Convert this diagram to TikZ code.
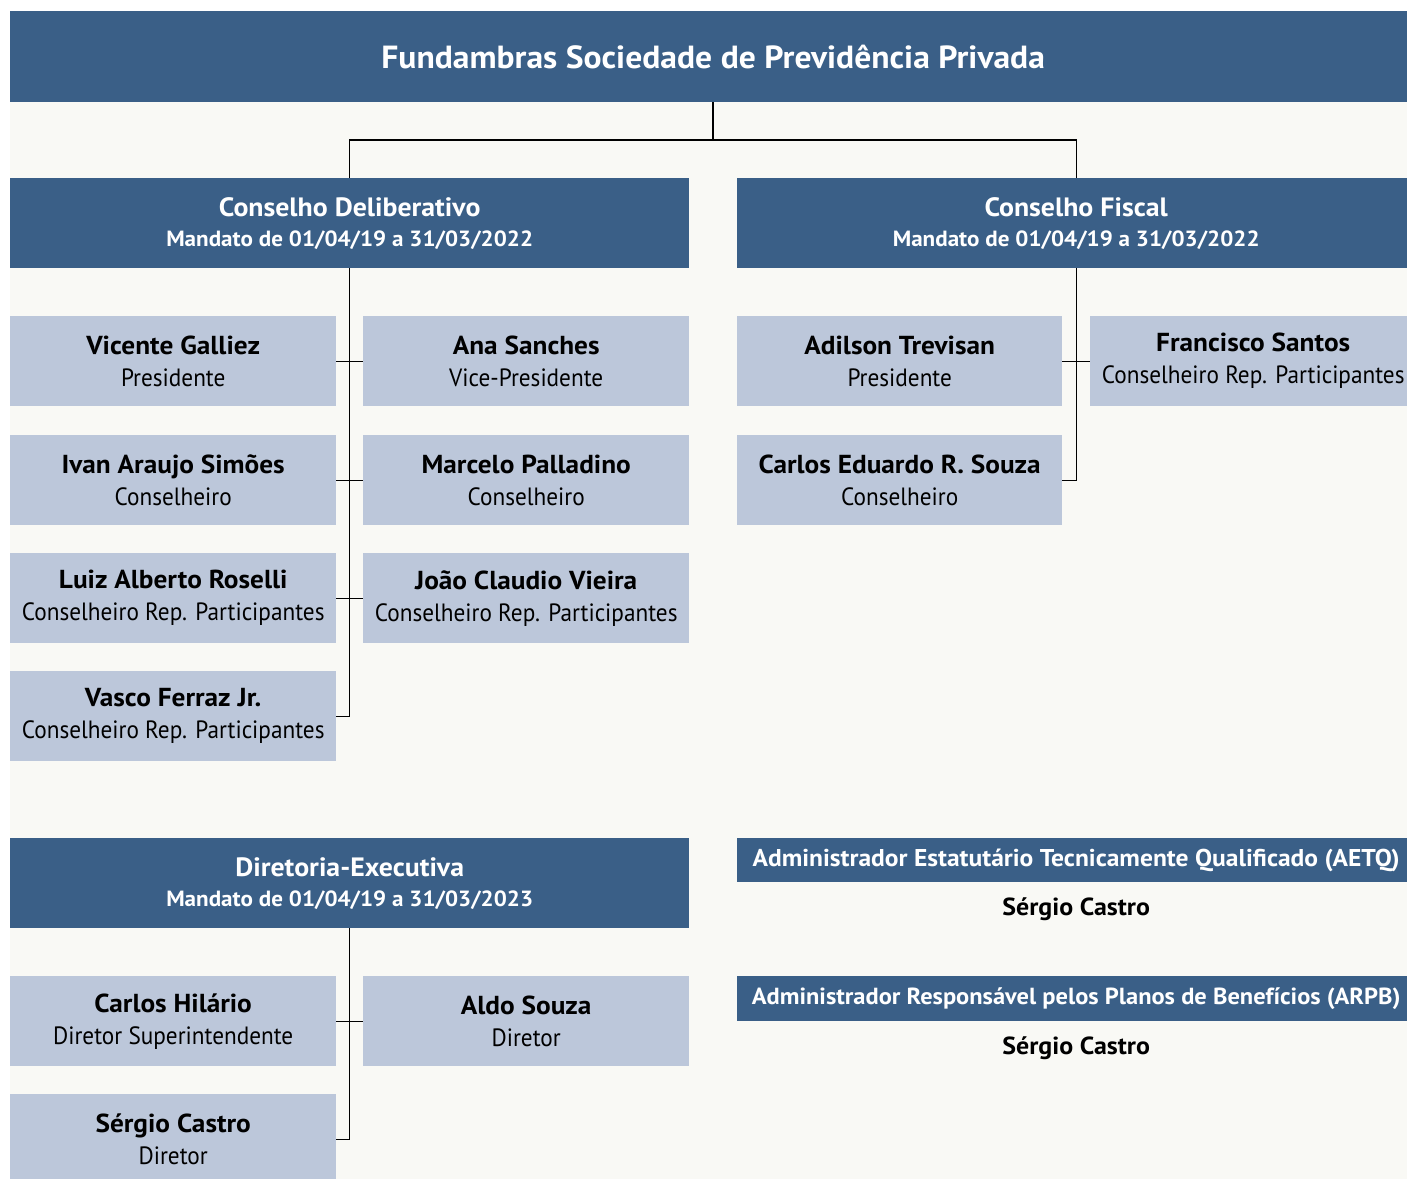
\documentclass[tikz,border=0pt]{standalone}
\usepackage{fontspec}
\setmainfont{PT Sans}[FakeStretch=0.93]
\newfontfamily\bff{PT Sans}[FakeStretch=1.05]
\definecolor{dkblue}{HTML}{3A5F87}
\definecolor{ltblue}{HTML}{BCC7DA}
\definecolor{bgcol}{HTML}{F9F9F5}
\newcommand\mandfont{\bff\bfseries\fontsize{22}{30}\selectfont}
\newcommand\nm[1]{{\bff\bfseries\fontsize{26}{32}\selectfont #1}}
\tikzset{
  dkbox/.style={fill=dkblue, text=white, inner sep=0pt, anchor=north west, align=center,
    font=\bff\bfseries\fontsize{26.5}{30}\selectfont},
  pbox/.style={fill=ltblue, text=black, inner sep=0pt, anchor=north west, align=center,
    minimum width=326pt, minimum height=90pt, font=\fontsize{25}{32}\selectfont},
  conn/.style={draw=black, line width=1.3pt},
  barbox/.style={dkbox, minimum width=678pt, font=\bff\bfseries\fontsize{24.3}{28}\selectfont},
  sname/.style={font=\bff\bfseries\fontsize{24.7}{28}\selectfont, anchor=north},
}
\begin{document}
\begin{tikzpicture}[x=1pt,y=-1pt]
\useasboundingbox (0,0) rectangle (1407,1178);
\clip (0,0) rectangle (1407,1178);
\fill[bgcol] (10,11) rectangle (1420,1190);

% title
\node[dkbox, minimum width=1406pt, minimum height=91pt, font=\bff\bfseries\fontsize{32}{36}\selectfont] (title) at (10,11) {Fundambras Sociedade de Previdência Privada};

% councils
\node[dkbox, minimum width=679pt, minimum height=90pt] (cd) at (10,178) {Conselho Deliberativo\\{\mandfont Mandato de 01/04/19 a 31/03/2022}};
\node[dkbox, minimum width=678pt, minimum height=90pt] (cf) at (737,178) {Conselho Fiscal\\{\mandfont Mandato de 01/04/19 a 31/03/2022}};

% Conselho Deliberativo members
\node[pbox] (vg) at (10,316) {\nm{Vicente Galliez}\\Presidente};
\node[pbox] (as) at (363,316) {\nm{Ana Sanches}\\Vice-Presidente};
\node[pbox] (ia) at (10,435) {\nm{Ivan Araujo Simões}\\Conselheiro};
\node[pbox] (mp) at (363,435) {\nm{Marcelo Palladino}\\Conselheiro};
\node[pbox] (lr) at (10,553) {\nm{Luiz Alberto Roselli}\\Conselheiro Rep. Participantes};
\node[pbox] (jv) at (363,553) {\nm{João Claudio Vieira}\\Conselheiro Rep. Participantes};
\node[pbox] (vf) at (10,671) {\nm{Vasco Ferraz Jr.}\\Conselheiro Rep. Participantes};

% Conselho Fiscal members
\node[pbox, minimum width=325pt] (at) at (737,316) {\nm{Adilson Trevisan}\\Presidente};
\node[pbox] (fs) at (1090,316) {\nm{Francisco Santos}\\Conselheiro Rep. Participantes};
\node[pbox, minimum width=325pt] (ce) at (737,435) {\nm{Carlos Eduardo R. Souza}\\Conselheiro};

% Diretoria
\node[dkbox, minimum width=679pt, minimum height=90pt] (de) at (10,838) {Diretoria-Executiva\\{\mandfont Mandato de 01/04/19 a 31/03/2023}};
\node[pbox] (ch) at (10,976) {\nm{Carlos Hilário}\\Diretor Superintendente};
\node[pbox] (al) at (363,976) {\nm{Aldo Souza}\\Diretor};
\node[pbox] (sc) at (10,1094) {\nm{Sérgio Castro}\\Diretor};

% AETQ / ARPB
\node[barbox, minimum height=44pt] (aetq) at (737,838) {Administrador Estatutário Tecnicamente Qualificado (AETQ)};
\node[sname] (aetqn) at ([yshift=-12pt]aetq.south) {Sérgio Castro};
\node[barbox, minimum height=45pt, font=\bff\bfseries\fontsize{23.3}{28}\selectfont] (arpb) at (737,976) {Administrador Responsável pelos Planos de Benefícios (ARPB)};
\node[sname] (arpbn) at ([yshift=-12pt]arpb.south) {Sérgio Castro};

% connectors
\coordinate (tj) at (713,140);
\draw[conn] (title.south -| tj) -- (tj);
\draw[conn] (cd.north) |- (tj) -| (cf.north);
\draw[conn] (cd.south) |- (vf.east);
\draw[conn] (vg.east) -- (as.west);
\draw[conn] (ia.east) -- (mp.west);
\draw[conn] (lr.east) -- (jv.west);
\draw[conn] (cf.south) |- (ce.east);
\draw[conn] (at.east) -- (fs.west);
\draw[conn] (de.south) |- (sc.east);
\draw[conn] (ch.east) -- (al.west);
\end{tikzpicture}
\end{document}
